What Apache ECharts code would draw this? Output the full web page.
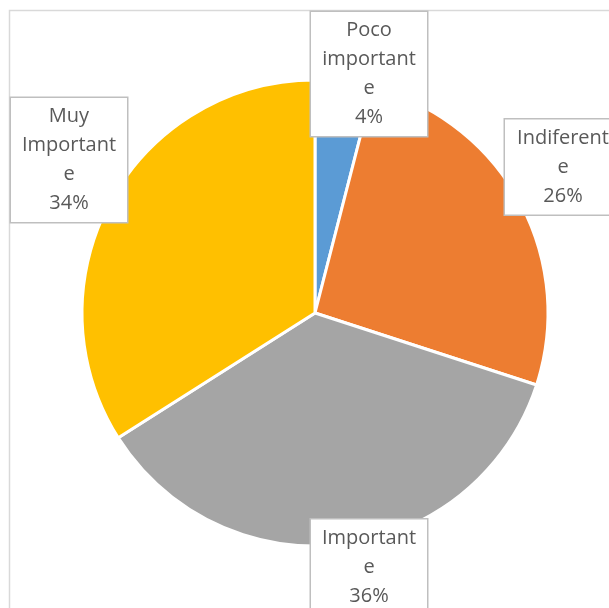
<!DOCTYPE html>
<html>
<head>
<meta charset="utf-8">
<script src="https://cdn.jsdelivr.net/npm/echarts@6/dist/echarts.min.js"></script>
<style>
  html, body { margin: 0; padding: 0; background: #fff; }
  #chart { width: 609px; height: 608px; }
</style>
</head>
<body>
<div id="chart"></div>
<script>
// Survey answers and their shares (percent)
const categories = ['Poco importante', 'Indiferente', 'Importante', 'Muy Importante'];
const shares = [4, 26, 36, 34];
// Label text as it wraps inside each callout box
const labelText = ['Poco\nimportant\ne', 'Indiferent\ne', 'Important\ne', 'Muy\nImportant\ne'];
const colors = ['#5B9BD5', '#ED7D31', '#A5A5A5', '#FFC000'];

// Callout box centres
const calloutPos = [[369, 74], [563, 167], [369, 567], [69, 160]];

const chart = echarts.init(document.getElementById('chart'), null, { renderer: 'canvas' });

chart.setOption({
  animation: false,
  backgroundColor: '#ffffff',
  graphic: [{
    type: 'rect',
    shape: { x: 9.5, y: 10.5, width: 700, height: 700 },
    style: { fill: 'none', stroke: '#d9d9d9', lineWidth: 1.5 },
    silent: true
  }],
  series: [{
    type: 'pie',
    center: [315, 313],
    radius: 233,
    startAngle: 90,
    clockwise: true,
    avoidLabelOverlap: false,
    emphasis: { disabled: true },
    itemStyle: { borderColor: '#ffffff', borderWidth: 3 },
    labelLine: { show: false },
    label: {
      show: true,
      formatter: p => labelText[p.dataIndex] + '\n' + p.value + '%',
      fontFamily: '"Open Sans", sans-serif',
      fontSize: 20,
      lineHeight: 29,
      color: '#595959',
      align: 'center',
      backgroundColor: '#ffffff',
      borderColor: '#bfbfbf',
      borderWidth: 1.5,
      width: 104,
      overflow: 'none',
      padding: [6, 6, 2, 6]
    },
    labelLayout: p => ({
      x: calloutPos[p.dataIndex][0],
      y: calloutPos[p.dataIndex][1],
      align: 'center',
      verticalAlign: 'middle',
      hideOverlap: false
    }),
    data: categories.map((name, i) => ({
      name,
      value: shares[i],
      itemStyle: { color: colors[i] }
    }))
  }]
});
</script>
</body>
</html>
